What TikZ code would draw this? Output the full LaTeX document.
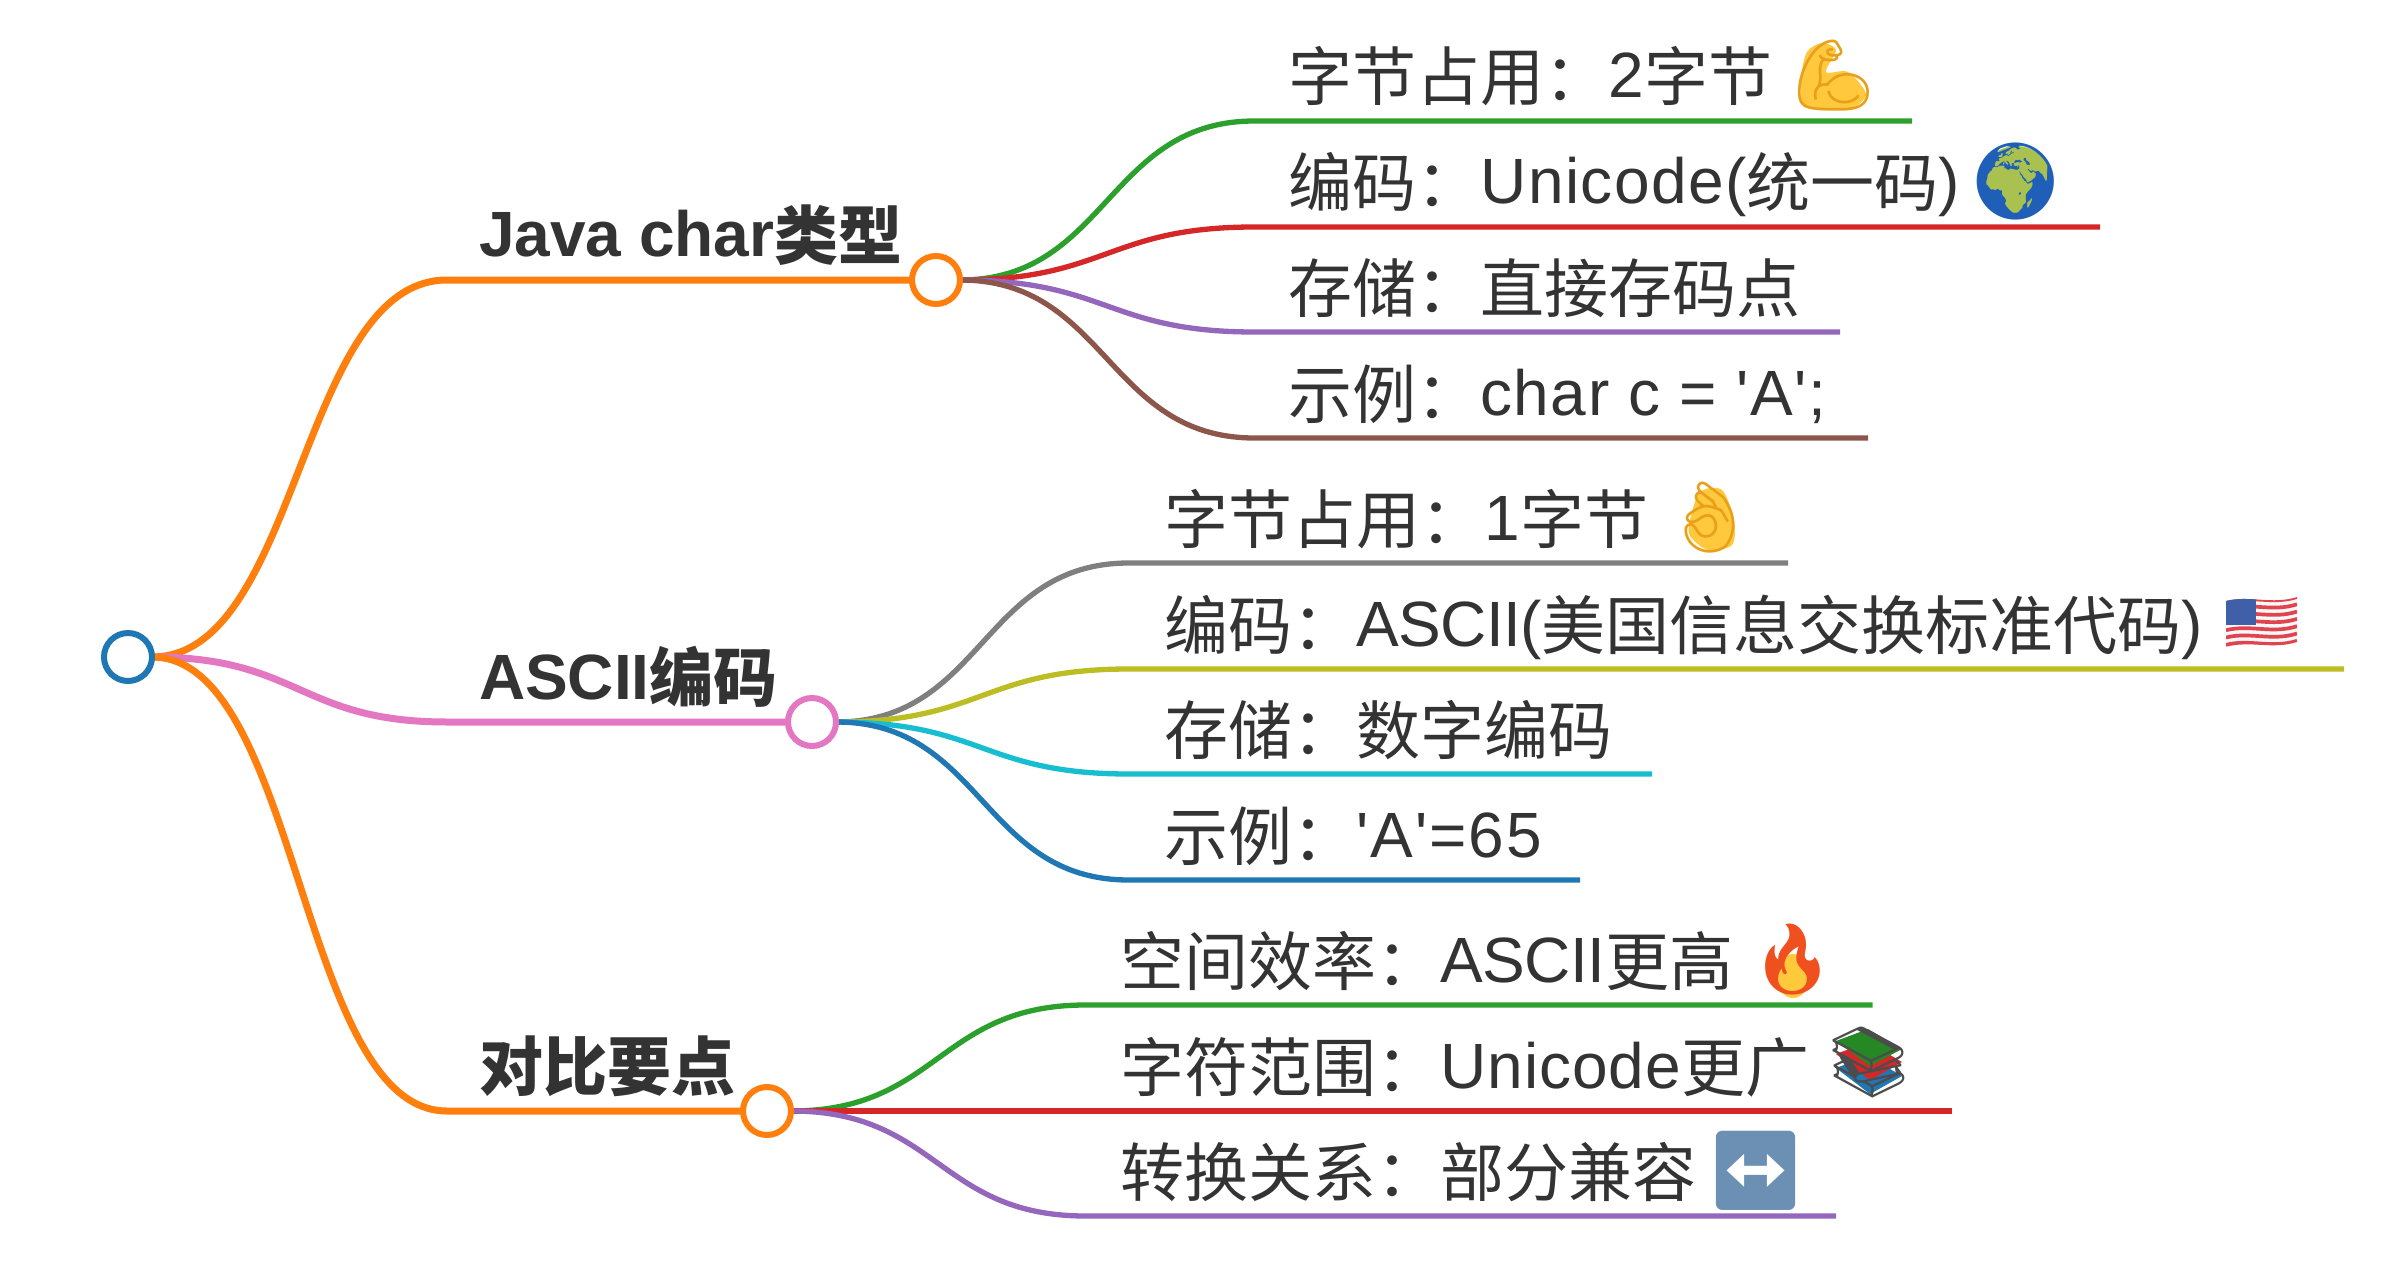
\documentclass[tikz,border=0pt]{standalone}
\usepackage{fontspec}
\newfontfamily\lat{Liberation Sans}
\newfontfamily\cjk{Noto Sans CJK SC}
\newfontfamily\emo{Noto Emoji}
\usetikzlibrary{backgrounds}
\definecolor{cblue}{HTML}{1F77B4}
\definecolor{corange}{HTML}{FF7F0E}
\definecolor{cgreen}{HTML}{2CA02C}
\definecolor{cred}{HTML}{D62728}
\definecolor{cpurple}{HTML}{9467BD}
\definecolor{cbrown}{HTML}{8C564B}
\definecolor{cpink}{HTML}{E377C2}
\definecolor{cgrey}{HTML}{7F7F7F}
\definecolor{colive}{HTML}{BCBD22}
\definecolor{ccyan}{HTML}{17BECF}
\definecolor{ink}{HTML}{333333}
\definecolor{skin}{HTML}{FFC83D}
\definecolor{skinedge}{HTML}{E8A01A}
\definecolor{ocean}{HTML}{1F5FB8}
\definecolor{land}{HTML}{A9C24F}
\definecolor{flame}{HTML}{F0501E}
\definecolor{flamecore}{HTML}{FFC93C}
\definecolor{arrowbox}{HTML}{6C90B3}
\definecolor{flagred}{HTML}{E0454F}
\definecolor{flagblue}{HTML}{3F5FA8}
\newcommand{\C}[1]{\raisebox{-3pt}{\cjk #1}}
\newcommand{\CB}[1]{\raisebox{-2pt}{\cjk #1}}
\newcommand{\LS}[2]{{\addfontfeature{LetterSpace=#1}#2}}
\tikzset{
  x=1pt,y=-1pt,
  dot/.style={circle,draw=#1,fill=white,line width=6pt,minimum size=48pt,inner sep=0pt,outer sep=0pt},
  leaftext/.style={anchor=base west,inner sep=0pt,outer sep=0pt,text=ink,font=\lat\fontsize{64pt}{70pt}\selectfont},
  headtext/.style={anchor=base west,inner sep=0pt,outer sep=0pt,text=ink,font=\lat\fontsize{64pt}{70pt}\selectfont\bfseries},
  emoji/.style={inner sep=0pt,outer sep=0pt,font=\fontsize{70pt}{76pt}\selectfont\emo,text=#1},
  headlink/.style={draw=#1,line width=7pt},
  leaflink/.style={draw=#1,line width=5.3pt},
}
% name, parent, colour, line start x, y, end x, text x, text
\newcommand{\myleaf}[8]{%
  \coordinate (#1s) at (#4,#5);
  \coordinate (#1e) at (#6,#5);
  \begin{pgfonlayer}{background}
    \draw[leaflink=#3] (#2.east) .. controls +(147,0) and +(-147,0) .. (#1s) -- (#1e);
  \end{pgfonlayer}
  \node[leaftext] (#1) at (#7,#5-23) {#8};
}
\begin{document}
\begin{tikzpicture}
\useasboundingbox (0,0) rectangle (2396,1268);
\node[dot=cblue] (root) at (128,657) {};
\node[dot=corange] (n1) at (936,280) {};
\node[dot=cpink] (n2) at (812,722) {};
\node[dot=corange] (n3) at (767,1111) {};
\coordinate (a1) at (447,280);
\coordinate (a2) at (447,722);
\coordinate (a3) at (447,1111);
\begin{pgfonlayer}{background}
\draw[headlink=corange] (root.east) .. controls +(147.5,0) and +(-147.5,0) .. (a1) -- (n1.west);
\draw[headlink=cpink] (root.east) .. controls +(147.5,0) and +(-147.5,0) .. (a2) -- (n2.west);
\draw[headlink=corange] (root.east) .. controls +(147.5,0) and +(-147.5,0) .. (a3) -- (n3.west);
\end{pgfonlayer}
\node[headtext] (h1) at (479,257) {Java char\CB{类型}};
\node[headtext] (h2) at (479,699) {ASCII\CB{编码}};
\node[headtext] (h3) at (479,1088) {\CB{对比要点}};

\myleaf{a}{n1}{cgreen}{1254.5}{121}{1912}{1288.5}{\C{字节占用：}2\C{字节}}
\myleaf{b}{n1}{cred}{1254.5}{227}{2100}{1288.5}{\C{编码：}\LS{2.2}{Unicode(}\C{统一码})}
\myleaf{c}{n1}{cpurple}{1254.5}{332}{1840}{1288.5}{\C{存储：直接存码点}}
\myleaf{d}{n1}{cbrown}{1254.5}{438}{1868}{1288.5}{\C{示例：}\LS{2.3}{char c = 'A';}}

\myleaf{e}{n2}{cgrey}{1129}{563}{1788}{1164.5}{\C{字节占用：}1\C{字节}}
\myleaf{f}{n2}{colive}{1129}{669}{2344}{1164.5}{\C{编码：}\LS{-1}{ASCII(}\C{美国信息交换标准代码})}
\myleaf{g}{n2}{ccyan}{1129}{774}{1652}{1164.5}{\C{存储：数字编码}}
\myleaf{h}{n2}{cblue}{1129}{880}{1580}{1164.5}{\C{示例：}\LS{3}{'A'=65}}

\myleaf{i}{n3}{cgreen}{1085.6}{1005}{1872.5}{1120.5}{\C{空间效率：}\LS{-1}{ASCII}\C{更高}}
\myleaf{j}{n3}{cred}{1085.6}{1111}{1952}{1120.5}{\C{字符范围：}\LS{1.5}{Unicode}\C{更广}}
\myleaf{k}{n3}{cpurple}{1085.6}{1216}{1836}{1120.5}{\C{转换关系：部分兼容}}

% muscle
\fill[skin] plot[smooth cycle] coordinates {(1803,106) (1801,78) (1807,52) (1822,43) (1836,50) (1826,72) (1848,72) (1866,94) (1852,108) (1825,108)};
\node[emoji=skinedge] (e1) at (1834,76) {💪};
% globe
\fill[land] (2016,182) circle (36);
\node[emoji=ocean,font=\fontsize{76pt}{80pt}\selectfont\emo] (e2) at (2016,182) {🌍};
% ok hand
\fill[skin] plot[smooth cycle] coordinates {(1690,520) (1700,492) (1722,490) (1734,520) (1732,545) (1708,550) (1690,536)};
\node[emoji=skinedge] (e3) at (1710,518) {👌};
% flag
\begin{scope}
  \clip (2226,601) .. controls (2250,595) and (2272,605) .. (2297,597) -- (2297,642) .. controls (2272,650) and (2250,640) .. (2226,647) -- cycle;
  \fill[white!94!gray] (2220,590) rectangle (2302,655);
  \foreach \i in {0,...,6}
    \draw[flagred,line width=3.7pt] (2226,601+\i*7.3) .. controls (2250,595+\i*7.3) and (2272,605+\i*7.3) .. (2297,597+\i*7.3);
  \fill[flagblue] (2220,590) rectangle (2256,625);
\end{scope}
% fire
\fill[flamecore] (1793,976) ellipse (17 and 22);
\node[emoji=flame] (e5) at (1793,960) {🔥};
% books
\fill[cblue] (1836,1068) -- (1868,1056) -- (1902,1076) -- (1870,1094) -- cycle;
\fill[cred] (1836,1054) -- (1868,1042) -- (1902,1062) -- (1870,1080) -- cycle;
\fill[cgreen!85!black] (1836,1041) -- (1868,1029) -- (1902,1049) -- (1870,1066) -- cycle;
\node[emoji={black!70}] (e6) at (1869,1063) {📚};
% arrows
\node[emoji=arrowbox,font=\fontsize{78pt}{82pt}\selectfont\emo] (e7) at (1755.5,1171) {↔};
\end{tikzpicture}
\end{document}
